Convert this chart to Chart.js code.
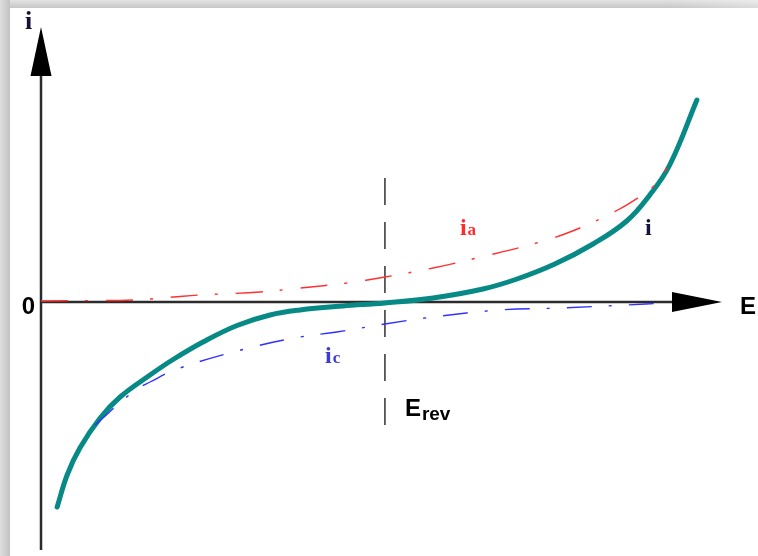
<!DOCTYPE html>
<html>
<head>
<meta charset="utf-8">
<script src="https://cdn.jsdelivr.net/npm/chart.js@4"></script>
<style>
  html, body { margin: 0; padding: 0; background: #fff; }
  #wrap { position: relative; width: 758px; height: 556px; background: #fff; overflow: hidden; }
  #wrap canvas { position: absolute; left: 0; top: 0; }
  .frameTop { position: absolute; left: 0; top: 0; width: 758px; height: 8px;
    background: linear-gradient(to bottom, #e2e2e2, #c6c6c6); }
  .frameTop::after { content: ""; position: absolute; right: 0; top: 0; width: 90px; height: 8px;
    background: linear-gradient(to right, rgba(255,255,255,0), rgba(255,255,255,0.35)); }
  .frameLeft { position: absolute; left: 0; top: 0; width: 10px; height: 556px;
    background: linear-gradient(to right, #dedede, #c2c2c2); }
</style>
</head>
<body>
<div id="wrap">
  <canvas id="grafico" width="758" height="556"></canvas>
  <div class="frameTop"></div>
  <div class="frameLeft"></div>
</div>
<script>
// axis range (E relative to Erev, current i)
const eMin = -1.0, eMax = 0.98;
const iMin = -1.24, iMax = 1.375;

// total current i
const eTotal = [-0.953, -0.924, -0.887, -0.828, -0.770, -0.683, -0.616, -0.529, -0.430, -0.334, -0.247, -0.122, 0, 0.140, 0.285, 0.384, 0.494, 0.605, 0.703, 0.770, 0.828, 0.907];
const iTotal = [-1.025, -0.865, -0.73, -0.58, -0.475, -0.365, -0.2875, -0.20, -0.1175, -0.065, -0.04, -0.02, -0.005, 0.02, 0.065, 0.115, 0.19, 0.29, 0.405, 0.535, 0.685, 1.01];

// anodic current ia
const eAnodic = [-1.0, -0.858, -0.733, -0.616, -0.538, -0.363, -0.247, -0.110, 0, 0.140, 0.267, 0.451, 0.567, 0.677, 0.735, 0.779, 0.820];
const iAnodic = [0.005, 0.007, 0.01, 0.025, 0.035, 0.05, 0.07, 0.095, 0.125, 0.17, 0.22, 0.30, 0.37, 0.46, 0.52, 0.575, 0.67];

// cathodic current ic
const eCathodic = [-0.843, -0.733, -0.683, -0.596, -0.384, -0.247, -0.140, 0, 0.140, 0.334, 0.509, 0.703, 0.814];
const iCathodic = [-0.615, -0.45, -0.40, -0.33, -0.225, -0.175, -0.15, -0.11, -0.075, -0.04, -0.03, -0.015, -0.005];

// Erev marker
const eRev = 0;
const revSpan = [0.62, -0.615];

const toPts = (xs, ys) => xs.map((x, k) => ({ x: x, y: ys[k] }));

const axisColor = "#2b2b2b";

const axesPlugin = {
  id: "flechas",
  beforeDatasetsDraw(chart) {
    const { ctx, scales } = chart;
    const x0 = scales.x.getPixelForValue(eMin);
    const x1 = scales.x.getPixelForValue(eMax);
    const y0 = scales.y.getPixelForValue(0);
    const yTop = scales.y.getPixelForValue(iMax);
    const yBot = scales.y.getPixelForValue(iMin);
    ctx.save();
    ctx.strokeStyle = axisColor;
    ctx.fillStyle = "#000";
    ctx.lineWidth = 2.5;
    ctx.beginPath();
    ctx.moveTo(x0, yBot);
    ctx.lineTo(x0, yTop + 40);
    ctx.moveTo(x0, y0);
    ctx.lineTo(x1 - 40, y0);
    ctx.stroke();
    // arrow heads
    ctx.beginPath();
    ctx.moveTo(x0, yTop);
    ctx.lineTo(x0 - 10.5, yTop + 49);
    ctx.lineTo(x0 + 10.5, yTop + 49);
    ctx.closePath();
    ctx.fill();
    ctx.beginPath();
    ctx.moveTo(x1, y0);
    ctx.lineTo(x1 - 50, y0 - 10);
    ctx.lineTo(x1 - 50, y0 + 10);
    ctx.closePath();
    ctx.fill();
    ctx.restore();
  },
  afterDraw(chart) {
    const { ctx, scales } = chart;
    const px = (v) => scales.x.getPixelForValue(v);
    const py = (v) => scales.y.getPixelForValue(v);
    const sub = (main, s, x, y, color, font, subFont, dy) => {
      ctx.fillStyle = color;
      ctx.font = font;
      ctx.textBaseline = "alphabetic";
      ctx.textAlign = "left";
      ctx.fillText(main, x, y);
      const w = ctx.measureText(main).width;
      ctx.font = subFont;
      ctx.fillText(s, x + w + 1, y + dy);
    };
    ctx.save();
    const sans = "bold 24px 'Liberation Sans', Arial, sans-serif";
    const serif = "bold 26px 'Liberation Serif', 'Times New Roman', serif";
    ctx.fillStyle = "#000";
    ctx.font = sans;
    ctx.textBaseline = "alphabetic";
    ctx.textAlign = "right";
    ctx.fillText("0", px(eMin) - 6, py(0) + 12);
    ctx.textAlign = "left";
    ctx.fillText("E", px(eMax) + 18, py(0) + 12);
    // i axis label
    ctx.fillStyle = "#14143a";
    ctx.font = serif;
    ctx.fillText("i", px(eMin) - 16, py(iMax) + 2);
    // Erev
    sub("E", "rev", px(0.058), py(-0.57), "#000", sans,
      "bold 19px 'Liberation Sans', Arial, sans-serif", 4);
    // curve labels
    const lab = "bold 24px 'Liberation Serif', 'Times New Roman', serif";
    const labSub = "bold 17px 'Liberation Serif', 'Times New Roman', serif";
    sub("i", "a", px(0.218), py(0.335), "#ff2b2b", lab, labSub, 0);
    sub("i", "c", px(-0.174), py(-0.305), "#3b3bd8", lab, labSub, 0);
    ctx.fillStyle = "#14143a";
    ctx.font = lab;
    ctx.fillText("i", px(0.756), py(0.335));
    ctx.restore();
  }
};

new Chart(document.getElementById("grafico"), {
  type: "scatter",
  data: {
    datasets: [
      {
        label: "ia",
        data: toPts(eAnodic, iAnodic),
        showLine: true,
        borderColor: "#ff3030",
        borderWidth: 1.4,
        borderDash: [27, 17, 3, 18],
        pointRadius: 0,
        tension: 0.4,
        order: 1,
      },
      {
        label: "ic",
        data: toPts(eCathodic, iCathodic),
        showLine: true,
        borderColor: "#3030ff",
        borderWidth: 1.4,
        borderDash: [25, 17, 3, 17],
        pointRadius: 0,
        tension: 0.4,
        order: 1,
      },
      {
        label: "Erev",
        data: toPts([eRev, eRev], revSpan),
        showLine: true,
        borderColor: "#222",
        borderWidth: 1.4,
        borderDash: [27, 17],
        pointRadius: 0,
        order: 3,
      },
      {
        label: "i",
        data: toPts(eTotal, iTotal),
        showLine: true,
        borderColor: "#078a85",
        borderWidth: 5,
        borderCapStyle: "round",
        pointRadius: 0,
        tension: 0.4,
        order: 2,
      },
    ],
  },
  options: {
    responsive: false,
    animation: false,
    layout: { padding: { left: 41, right: 36, top: 27, bottom: 6 } },
    plugins: { legend: { display: false }, tooltip: { enabled: false } },
    scales: {
      x: { type: "linear", min: eMin, max: eMax, display: false },
      y: { type: "linear", min: iMin, max: iMax, display: false },
    },
  },
  plugins: [axesPlugin],
});
</script>
</body>
</html>
